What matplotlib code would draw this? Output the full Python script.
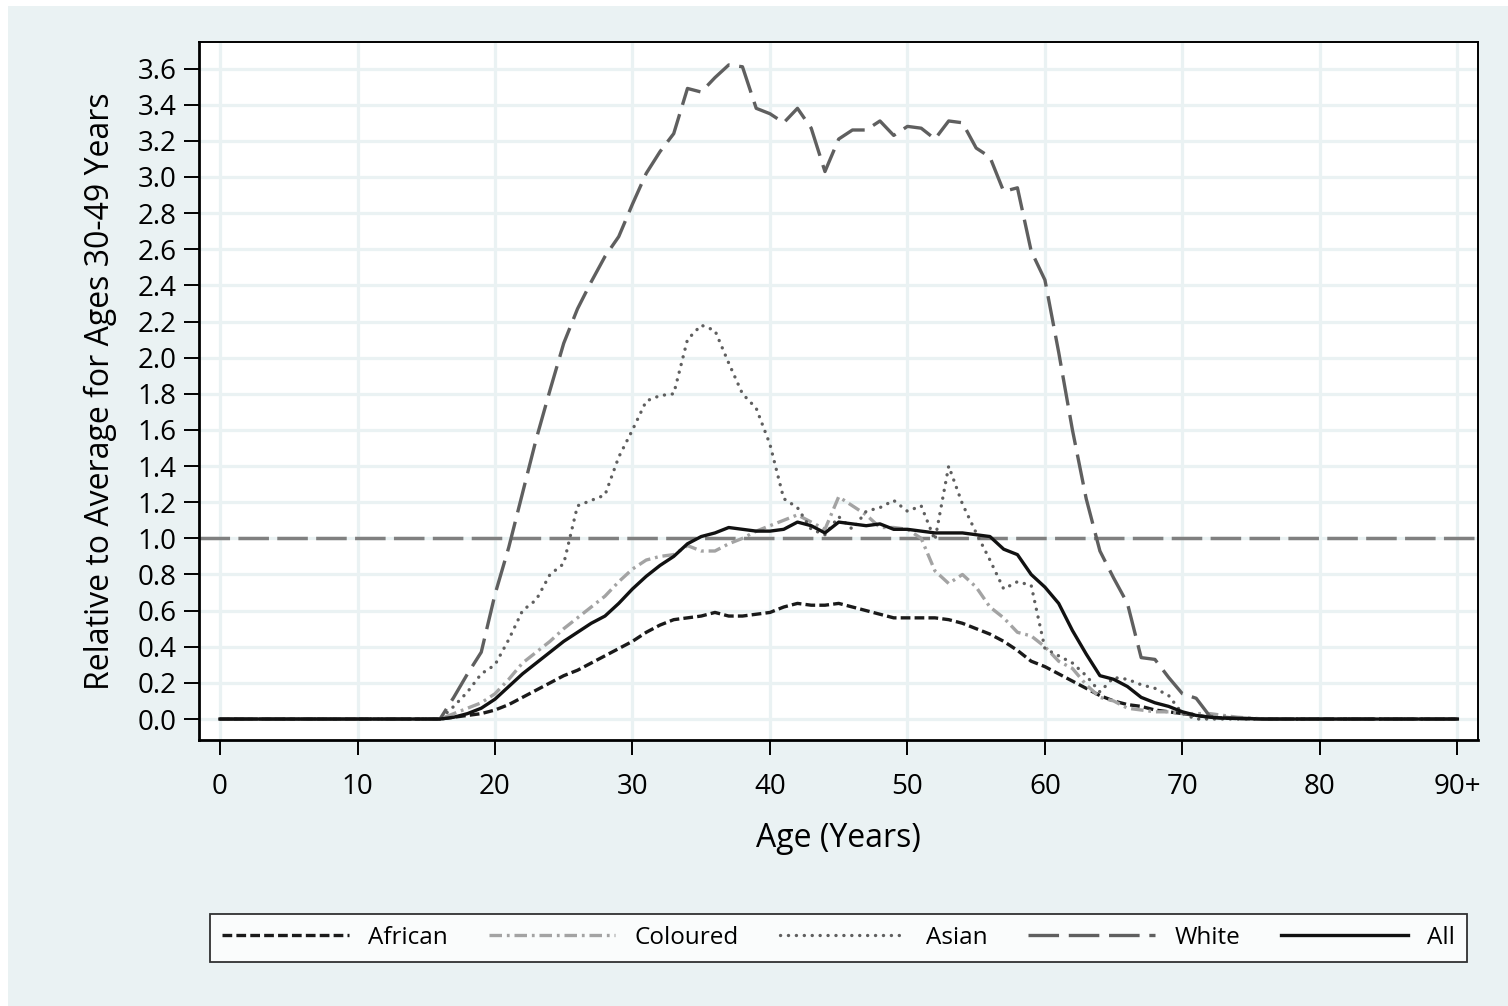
import matplotlib
matplotlib.use("Agg")
import matplotlib.pyplot as plt
from matplotlib.patches import Rectangle

plt.rcParams['font.family'] = ['Open Sans', 'DejaVu Sans']
plt.rcParams['lines.scale_dashes'] = False

# ages 0..89 plus "90+" (plotted at 90)
ages = list(range(0, 91))
xtick_vals = [0, 10, 20, 30, 40, 50, 60, 70, 80, 90]
xtick_labels = ['0', '10', '20', '30', '40', '50', '60', '70', '80', '90+']

# values for ages 0-15 are flat at zero; 76-90 are flat at ~0
zeros_young = [0.0] * 16
zeros_old = [0.0] * 15

african = zeros_young + [
    0.00, 0.01, 0.02, 0.03, 0.05, 0.08, 0.12, 0.16, 0.20, 0.24,
    0.27, 0.31, 0.35, 0.39, 0.43, 0.48, 0.52, 0.55, 0.56, 0.57,
    0.59, 0.57, 0.57, 0.58, 0.59, 0.62, 0.64, 0.63, 0.63, 0.64,
    0.62, 0.60, 0.58, 0.56, 0.56, 0.56, 0.56, 0.55, 0.53, 0.50,
    0.47, 0.43, 0.38, 0.32, 0.29, 0.25, 0.21, 0.17, 0.13, 0.10,
    0.08, 0.07, 0.05, 0.04, 0.03, 0.02, 0.01, 0.005, 0.003, 0.002] + zeros_old

coloured = zeros_young + [
    0.00, 0.03, 0.06, 0.09, 0.14, 0.22, 0.31, 0.37, 0.43, 0.50,
    0.56, 0.62, 0.68, 0.76, 0.83, 0.88, 0.90, 0.91, 0.96, 0.93,
    0.93, 0.97, 1.00, 1.04, 1.07, 1.10, 1.13, 1.09, 1.05, 1.23,
    1.18, 1.13, 1.06, 1.06, 1.05, 1.00, 0.82, 0.75, 0.80, 0.73,
    0.62, 0.56, 0.48, 0.46, 0.40, 0.32, 0.28, 0.19, 0.12, 0.10,
    0.06, 0.05, 0.04, 0.04, 0.03, 0.03, 0.03, 0.02, 0.01, 0.005] + zeros_old

asian = zeros_young + [
    0.00, 0.07, 0.15, 0.25, 0.30, 0.44, 0.60, 0.66, 0.80, 0.86,
    1.18, 1.21, 1.24, 1.45, 1.60, 1.76, 1.79, 1.80, 2.10, 2.18,
    2.15, 1.97, 1.80, 1.72, 1.52, 1.22, 1.17, 1.05, 1.02, 1.12,
    1.05, 1.15, 1.17, 1.21, 1.15, 1.18, 0.99, 1.40, 1.19, 1.03,
    0.88, 0.72, 0.76, 0.74, 0.39, 0.35, 0.31, 0.24, 0.15, 0.23,
    0.22, 0.19, 0.17, 0.13, 0.03, 0.00, 0.00, 0.00, 0.00, 0.00] + zeros_old

white = zeros_young + [
    0.00, 0.12, 0.25, 0.37, 0.69, 0.95, 1.25, 1.55, 1.82, 2.08,
    2.27, 2.42, 2.56, 2.67, 2.85, 3.02, 3.14, 3.24, 3.49, 3.47,
    3.55, 3.62, 3.61, 3.38, 3.35, 3.30, 3.38, 3.27, 3.03, 3.21,
    3.26, 3.26, 3.31, 3.23, 3.28, 3.27, 3.21, 3.31, 3.30, 3.16,
    3.11, 2.92, 2.94, 2.59, 2.43, 2.03, 1.60, 1.22, 0.93, 0.78,
    0.64, 0.34, 0.33, 0.23, 0.14, 0.115, 0.015, 0.01, 0.005, 0.003] + zeros_old

all_groups = zeros_young + [
    0.00, 0.01, 0.03, 0.06, 0.11, 0.18, 0.25, 0.31, 0.37, 0.43,
    0.48, 0.53, 0.57, 0.64, 0.72, 0.79, 0.85, 0.90, 0.97, 1.01,
    1.03, 1.06, 1.05, 1.04, 1.04, 1.05, 1.09, 1.07, 1.03, 1.09,
    1.08, 1.07, 1.08, 1.05, 1.05, 1.04, 1.03, 1.03, 1.03, 1.02,
    1.01, 0.94, 0.91, 0.80, 0.73, 0.64, 0.49, 0.36, 0.24, 0.22,
    0.18, 0.12, 0.09, 0.07, 0.04, 0.02, 0.01, 0.005, 0.003, 0.002] + zeros_old

bg = '#EAF2F3'

fig = plt.figure(figsize=(15.08, 10.06), dpi=100, facecolor='white')
fig.patches.append(Rectangle((8 / 1508, 0), 1, 1 - 6 / 1006, transform=fig.transFigure,
                             facecolor=bg, edgecolor='none', zorder=-10))
ax = fig.add_axes([199 / 1508, 1 - 740 / 1006, 1279 / 1508, 698 / 1006])
ax.set_facecolor('white')

ax.set_xlim(-1.53, 91.5)
ax.set_ylim(-0.116, 3.747)

# grid
for x in xtick_vals:
    ax.axvline(x, color=bg, lw=2.3, zorder=0)
yt = [i * 0.2 for i in range(19)]
for y in yt:
    ax.axhline(y, color=bg, lw=2.3, zorder=0)

# reference line
ax.axhline(1.0, color='#808080', lw=2.5, dashes=(22, 6), zorder=1)

ax.plot(ages, african, color='#1a1a1a', lw=2.4, dashes=(7, 3), label='African')
ax.plot(ages, coloured, color='#a3a3a3', lw=2.4, dashes=(9, 3.5, 2, 3.5), label='Coloured')
ax.plot(ages, asian, color='#5f5f5f', lw=2.4, dashes=(0.1, 5.6), dash_capstyle='round',
        label='Asian')
ax.plot(ages, white, color='#5f5f5f', lw=2.4, dashes=(22, 7), label='White')
ax.plot(ages, all_groups, color='#111111', lw=2.4, label='All')

ax.set_xticks(xtick_vals)
ax.set_xticklabels(xtick_labels)
ax.set_yticks(yt)
ax.set_yticklabels([f'{v:.1f}' for v in yt])
ax.tick_params(axis='both', direction='out', length=11, width=1.4, labelsize=20,
               colors='black')
ax.tick_params(axis='x', pad=13)
ax.tick_params(axis='y', pad=5)

for side in ['left', 'bottom']:
    ax.spines[side].set_linewidth(2.0)
for side in ['top', 'right']:
    ax.spines[side].set_linewidth(1.4)

ax.set_xlabel('Age (Years)', fontsize=23, labelpad=15)
ax.set_ylabel('Relative to Average for Ages 30-49 Years', fontsize=23, labelpad=15)

leg = fig.legend(loc='lower left', bbox_to_anchor=(210 / 1508, 1 - 962 / 1006, 1257 / 1508, 57 / 1006),
                 mode='expand', ncol=5, fontsize=17.5, handlelength=5.2, handletextpad=0.8,
                 borderpad=0.5, frameon=True, fancybox=False, borderaxespad=0)
leg.get_frame().set_edgecolor('black')
leg.get_frame().set_linewidth(1.3)

fig.savefig('out.png', dpi=100, facecolor=fig.get_facecolor())
